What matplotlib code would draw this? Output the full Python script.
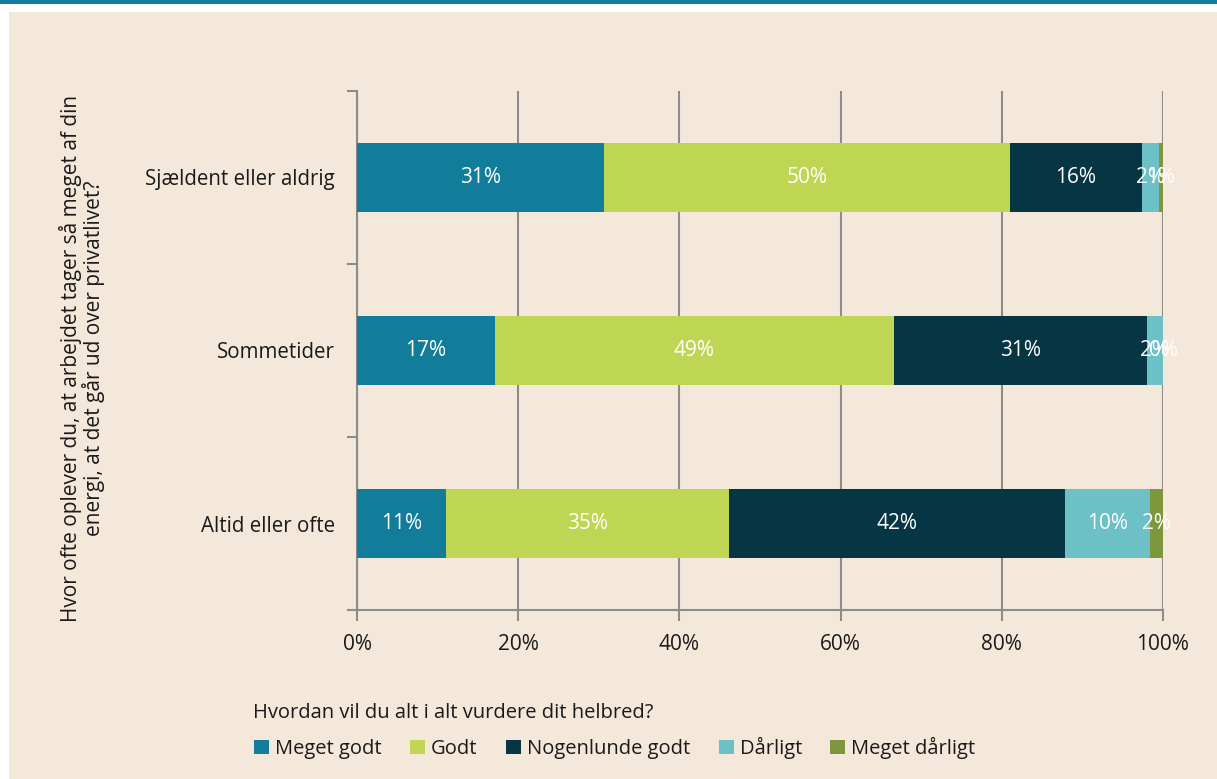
import numpy as np
import matplotlib
import matplotlib.pyplot as plt
from matplotlib.patches import Rectangle

plt.rcParams['font.family'] = ['Open Sans', 'DejaVu Sans']

categories = ["Altid eller ofte", "Sommetider", "Sjældent eller aldrig"]
series_names = ["Meget godt", "Godt", "Nogenlunde godt", "Dårligt", "Meget dårligt"]
colors = ["#117D9A", "#BED654", "#063544", "#6BC1C6", "#7E963C"]

meget_godt = [11.0, 17.1, 30.6]
godt = [35.1, 49.5, 50.4]
nogenlunde = [41.8, 31.4, 16.4]
daarligt = [10.5, 2.0, 2.1]
meget_daarligt = [1.6, 0.0, 0.5]

label_meget_godt = ["11%", "17%", "31%"]
label_godt = ["35%", "49%", "50%"]
label_nogenlunde = ["42%", "31%", "16%"]
label_daarligt = ["10%", "2%", "2%"]
label_meget_daarligt = ["2%", "0%", "1%"]

xticks = [0, 20, 40, 60, 80, 100]
xticklabels = ["0%", "20%", "40%", "60%", "80%", "100%"]

bg = "#F4E8DA"
grid_col = "#8C8C8C"
txt_col = "#1a1a1a"

fig = plt.figure(figsize=(12.17, 7.79), dpi=100)
fig.patch.set_facecolor("white")
fig.patches.append(Rectangle((9 / 1217, 0), 1 - 9 / 1217, 1 - 12 / 779,
                             transform=fig.transFigure, facecolor=bg,
                             edgecolor="none", zorder=-10))
fig.patches.append(Rectangle((0, 1 - 4 / 779), 1, 4 / 779,
                             transform=fig.transFigure, facecolor="#117D9A",
                             edgecolor="none", zorder=-10))

ax = fig.add_axes([357 / 1217, 1 - 610 / 779, 806 / 1217, 519 / 779])
ax.set_facecolor("none")

series = [meget_godt, godt, nogenlunde, daarligt, meget_daarligt]
labels = [label_meget_godt, label_godt, label_nogenlunde, label_daarligt,
          label_meget_daarligt]
y = np.arange(len(categories))
left = np.zeros(len(categories))
for vals, labs, name, col in zip(series, labels, series_names, colors):
    vals = np.array(vals)
    ax.barh(y, vals, left=left, height=0.40, color=col, label=name, zorder=3)
    for i in range(len(categories)):
        ax.text(left[i] + vals[i] / 2, y[i], labs[i], ha="center", va="center",
                color="white", fontsize=15, zorder=4)
    left = left + vals

ax.set_xlim(0, 100)
ax.set_ylim(-0.5, 2.5)
ax.set_xticks(xticks)
ax.set_xticklabels(xticklabels, fontsize=15, color=txt_col)
ax.set_yticks(y)
ax.set_yticklabels(categories, fontsize=14.8, color=txt_col)
ax.set_yticks([-0.5, 0.5, 1.5, 2.5], minor=True)
ax.tick_params(axis="y", which="major", length=0, pad=16)
ax.tick_params(axis="y", which="minor", length=7, width=1.5, color=grid_col)
ax.tick_params(axis="x", length=8, width=1.5, color=grid_col, pad=9)
ax.grid(axis="x", color=grid_col, linewidth=1.5, zorder=0)
for s in ["top", "right"]:
    ax.spines[s].set_visible(False)
for s in ["left", "bottom"]:
    ax.spines[s].set_color(grid_col)
    ax.spines[s].set_linewidth(1.5)

fig.text(82 / 1217, 1 - 358 / 779,
         "Hvor ofte oplever du, at arbejdet tager så meget af din\nenergi, at det går ud over privatlivet?",
         rotation=90, ha="center", va="center", fontsize=15,
         color=txt_col, multialignment="center", linespacing=1.05)

fig.text(253 / 1217, 1 - 713 / 779, "Hvordan vil du alt i alt vurdere dit helbred?",
         ha="left", va="center", fontsize=14.5, color=txt_col)

leg = fig.legend(loc="center left", bbox_to_anchor=(238 / 1217, 1 - 748 / 779),
                 ncol=5, frameon=False, fontsize=14.5,
                 handlelength=0.75, handleheight=0.75,
                 handletextpad=0.3, columnspacing=1.4, borderpad=0.3)
for t in leg.get_texts():
    t.set_color(txt_col)

plt.savefig("out.png", dpi=100, facecolor=fig.get_facecolor())
